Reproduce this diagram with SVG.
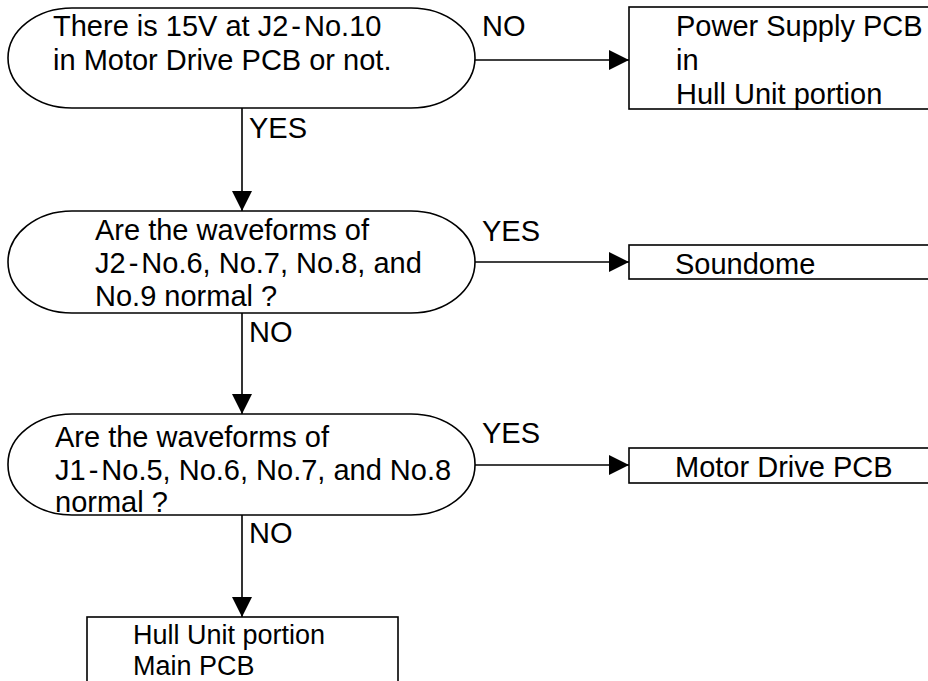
<svg xmlns="http://www.w3.org/2000/svg" width="928" height="681" viewBox="0 0 928 681">
  <style>
    .shape { fill: #ffffff; stroke: #000000; stroke-width: 1.6; }
    .wire { fill: none; stroke: #000000; stroke-width: 1.6; }
    text { font-family: "Liberation Sans", Arial, Helvetica, sans-serif; font-size: 29px; fill: #000000; }
    .tight { font-size: 27px; }
  </style>
  <defs>
    <marker id="arrow" viewBox="0 0 20 20" refX="20" refY="10" markerWidth="20" markerHeight="20" markerUnits="userSpaceOnUse" orient="auto">
      <path d="M0,0 L20,10 L0,20 Z" fill="#000000"/>
    </marker>
  </defs>

  <rect width="928" height="681" fill="#ffffff"/>

  <!-- connectors -->
  <g id="connectors">
    <line class="wire" x1="475" y1="60" x2="629" y2="60" marker-end="url(#arrow)"/>
    <line class="wire" x1="242" y1="108" x2="242" y2="211" marker-end="url(#arrow)"/>
    <line class="wire" x1="475" y1="262" x2="629" y2="262" marker-end="url(#arrow)"/>
    <line class="wire" x1="242" y1="313" x2="242" y2="414" marker-end="url(#arrow)"/>
    <line class="wire" x1="475" y1="465" x2="629" y2="465" marker-end="url(#arrow)"/>
    <line class="wire" x1="242" y1="515" x2="242" y2="617" marker-end="url(#arrow)"/>
    <text x="482" y="36">NO</text>
    <text x="249" y="138">YES</text>
    <text x="482" y="241">YES</text>
    <text x="249" y="342">NO</text>
    <text x="482" y="443">YES</text>
    <text x="249" y="543">NO</text>
  </g>

  <!-- decision: 15V supply -->
  <g id="check-15v">
    <rect class="shape" x="8" y="8" width="467" height="100" rx="64" ry="50"/>
    <text x="53" y="36">There is 15V at J2<tspan dx="3">-</tspan><tspan dx="3">No.10</tspan></text>
    <text x="53" y="70">in Motor Drive PCB or not.</text>
  </g>

  <!-- result: power supply -->
  <g id="power-supply">
    <rect class="shape" x="629" y="7" width="320" height="102"/>
    <text x="676" y="36">Power Supply PCB</text>
    <text x="676" y="70">in</text>
    <text x="676" y="104">Hull Unit portion</text>
  </g>

  <!-- decision: J2 waveforms -->
  <g id="check-j2">
    <rect class="shape" x="8" y="211" width="467" height="102" rx="64" ry="51"/>
    <text x="95" y="240">Are the waveforms of</text>
    <text x="95" y="273">J2<tspan dx="3">-</tspan><tspan dx="3">No.6, No.7, No.8, and</tspan></text>
    <text x="95" y="306">No.9 normal ?</text>
  </g>

  <!-- result: soundome -->
  <g id="soundome">
    <rect class="shape" x="629" y="245" width="320" height="34"/>
    <text x="675" y="274">Soundome</text>
  </g>

  <!-- decision: J1 waveforms -->
  <g id="check-j1">
    <rect class="shape" x="8" y="414" width="467" height="101" rx="64" ry="50"/>
    <text x="55" y="447">Are the waveforms of</text>
    <text x="55" y="480">J1<tspan dx="3">-</tspan><tspan dx="3">No.5, No.6, No.7, and No.8</tspan></text>
    <text x="55" y="512">normal ?</text>
  </g>

  <!-- result: motor drive -->
  <g id="motor-drive">
    <rect class="shape" x="629" y="448" width="320" height="35"/>
    <text x="675" y="477">Motor Drive PCB</text>
  </g>

  <!-- result: main PCB -->
  <g id="main-pcb">
    <rect class="shape" x="87" y="617" width="311" height="100"/>
    <text class="tight" x="133" y="644">Hull Unit portion</text>
    <text class="tight" x="133" y="675">Main PCB</text>
  </g>
</svg>
